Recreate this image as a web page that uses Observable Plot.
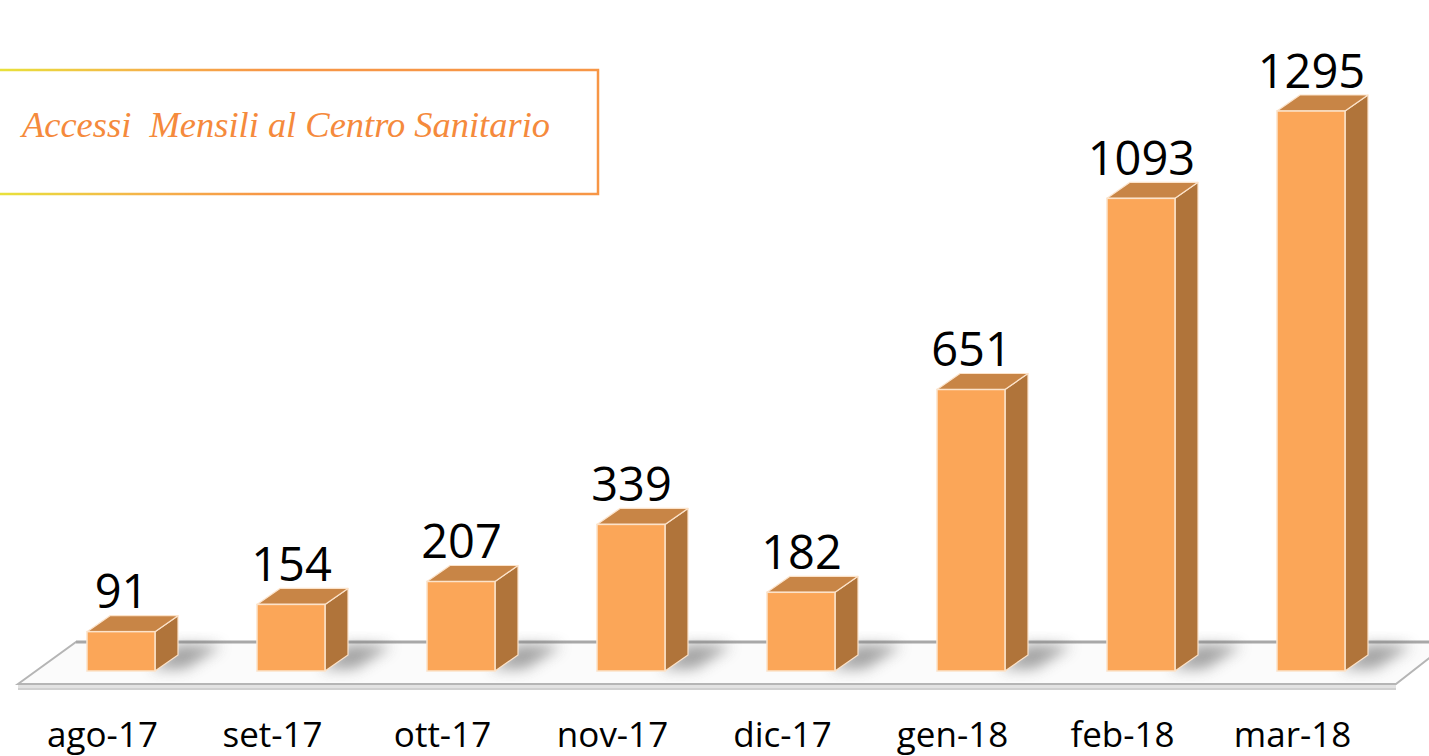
<!DOCTYPE html>
<html>
<head>
<meta charset="utf-8">
<script src="https://cdn.jsdelivr.net/npm/d3@7"></script>
<script src="https://cdn.jsdelivr.net/npm/@observablehq/plot@0.6"></script>
<style>
  html, body { margin: 0; padding: 0; background: #fff; overflow: hidden; }
  #wrap { position: relative; width: 1429px; height: 756px; }
  #title { position: absolute; left: 0; top: 0; }
</style>
</head>
<body>
<div id="wrap"></div>
<script>
const months = ["ago-17", "set-17", "ott-17", "nov-17", "dic-17", "gen-18", "feb-18", "mar-18"];
const values = [91, 154, 207, 339, 182, 651, 1093, 1295];
const titleText = "Accessi  Mensili al Centro Sanitario";

const data = months.map((m, i) => ({m, v: values[i]}));

const DX = 23, DY = -16; // 3D depth offset
const colors = {front: "#FBA658", top: "#C88546", side: "#B0743A", edge: "#FCE3CA"};

// floor + shadows (drawn through scales)
function floorMark(index, scales, values_, dims) {
  const x = scales.x, y = scales.y;
  const bw = x.bandwidth();
  const y0 = y(0);
  const first = x(months[0]) - 69, last = x(months[months.length - 1]) + bw + 51;
  const g = d3.create("svg:g");
  const defs = g.append("defs");
  const f = defs.append("filter").attr("id", "blur").attr("x", "-50%").attr("y", "-50%").attr("width", "200%").attr("height", "200%");
  f.append("feGaussianBlur").attr("stdDeviation", 7);
  const back = y0 - 29, front = y0 + 13;
  g.append("path")
    .attr("d", `M${first},${front} L${last},${front} L${last},${front + 4} L${first},${front + 4} Z`)
    .attr("fill", "#e2e2e2");
  g.append("path")
    .attr("d", `M${first},${front} L${first + 58},${back} L${last + 54},${back} L${last},${front} Z`)
    .attr("fill", "#fbfbfb")
    .attr("stroke", "#b5b5b5").attr("stroke-width", 2);
  g.append("line")
    .attr("x1", first + 58).attr("x2", last + 54).attr("y1", back).attr("y2", back)
    .attr("stroke", "#a8a8a8").attr("stroke-width", 3);
  g.append("line")
    .attr("x1", first).attr("x2", last).attr("y1", front + 5).attr("y2", front + 5)
    .attr("stroke", "#d0d0d0").attr("stroke-width", 2);
  for (const d of data) {
    const x0 = x(d.m);
    g.append("path")
      .attr("d", `M${x0 + bw - 4},${y0 - 2} L${x0 + bw + DX},${back + 2} L${x0 + bw + DX + 44},${back + 4} L${x0 + bw + 30},${y0 - 2} Z`)
      .attr("fill", "#6a6a6a").attr("opacity", 0.6).attr("filter", "url(#blur)");
  }
  return g.node();
}

function depthMark(index, scales) {
  const x = scales.x, y = scales.y;
  const bw = x.bandwidth();
  const g = d3.create("svg:g");
  for (const d of data) {
    const x0 = x(d.m), x1 = x0 + bw, yt = y(d.v), yb = y(0);
    g.append("path")
      .attr("d", `M${x1},${yt} L${x1 + DX},${yt + DY} L${x1 + DX},${yb + DY} L${x1},${yb} Z`)
      .attr("fill", colors.side).attr("stroke", colors.edge).attr("stroke-width", 1.2).attr("stroke-linejoin", "round");
    g.append("path")
      .attr("d", `M${x0},${yt} L${x0 + DX},${yt + DY} L${x1 + DX},${yt + DY} L${x1},${yt} Z`)
      .attr("fill", colors.top).attr("stroke", colors.edge).attr("stroke-width", 1.2).attr("stroke-linejoin", "round");
  }
  return g.node();
}

const chart = Plot.plot({
  width: 1429,
  height: 756,
  margin: 0,
  style: {background: "transparent", overflow: "visible"},
  x: {type: "band", domain: months, range: [35, 1396], paddingInner: 0.6, paddingOuter: 0.3, axis: null},
  y: {domain: [0, 1295], range: [671, 111], axis: null},
  marks: [
    floorMark,
    depthMark,
    Plot.barY(data, {x: "m", y1: 0, y2: "v", fill: colors.front, stroke: colors.edge, strokeWidth: 1.5, inset: 0}),
    Plot.text(data, {
      x: "m", y: "v", text: d => String(d.v), dy: -24, dx: 0,
      fontSize: 47, fontFamily: "Open Sans", fill: "#000", textAnchor: "middle", lineAnchor: "bottom"
    }),
    Plot.text(data, {
      x: "m", y: d => 0, text: "m", dy: 75, dx: -19,
      fontSize: 35, fontFamily: "Open Sans", fill: "#000", textAnchor: "middle", lineAnchor: "bottom"
    })
  ]
});

const wrap = document.getElementById("wrap");
wrap.appendChild(chart);

const t = d3.create("svg").attr("id", "title").attr("width", 620).attr("height", 210);
const gd = t.append("defs").append("linearGradient").attr("id", "tg").attr("x1", "0").attr("x2", "1");
gd.append("stop").attr("offset", "0%").attr("stop-color", "#E8E23A");
gd.append("stop").attr("offset", "25%").attr("stop-color", "#F5B24A");
gd.append("stop").attr("offset", "45%").attr("stop-color", "#F79646");
gd.append("stop").attr("offset", "100%").attr("stop-color", "#F79646");
t.append("rect").attr("x", -3).attr("y", 70).attr("width", 601).attr("height", 124)
  .attr("fill", "none").attr("stroke", "url(#tg)").attr("stroke-width", 2.5);
t.append("text").attr("x", 22).attr("y", 137)
  .attr("font-family", "Liberation Serif").attr("font-style", "italic").attr("font-size", 36)
  .attr("fill", "#F58A3C").attr("textLength", 528).attr("lengthAdjust", "spacingAndGlyphs")
  .style("white-space", "pre")
  .text(titleText);
wrap.appendChild(t.node());
</script>
</body>
</html>
